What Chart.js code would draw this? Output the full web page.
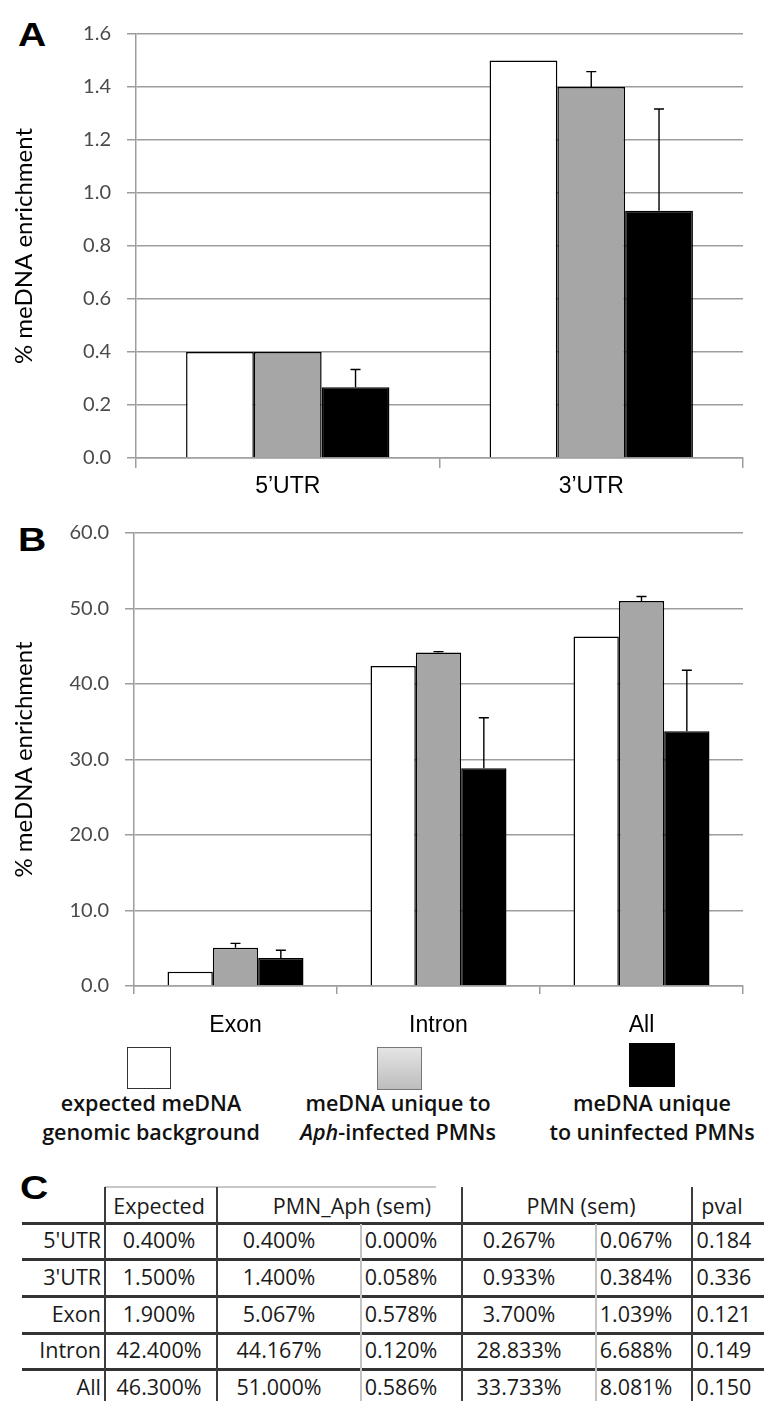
<!DOCTYPE html>
<html>
<head>
<meta charset="utf-8">
<script src="https://cdn.jsdelivr.net/npm/chart.js@4.4.1/dist/chart.umd.min.js"></script>
<style>
  body { margin: 0; background: #fff; }
  #page { position: relative; width: 764px; height: 1401px; overflow: hidden; background: #fff; font-family: Lato, sans-serif; }
  .panel { position: absolute; font: bold 34px "Liberation Sans", Arial, sans-serif; line-height: 34px; transform-origin: left top; transform: scaleX(1.15); color: #000; }
  #wrapA { position: absolute; left: 0; top: 0; width: 764px; height: 505px; }
  #wrapB { position: absolute; left: 0; top: 505px; width: 764px; height: 535px; }
  .sw { position: absolute; box-sizing: border-box; }
  .lg { position: absolute; width: 280px; margin-left: -140px; text-align: center; font: 600 21.5px "Open Sans", sans-serif; line-height: 29px; color: #111; }
  .cell { position: absolute; font: 21.5px "Open Sans", sans-serif; color: #1a1a1a; white-space: nowrap; }
  .ln { position: absolute; }
</style>
</head>
<body>
<div id="page">
  <div class="panel" style="left:18px;top:17px">A</div>
  <div class="panel" style="left:18px;top:522px">B</div>
  <div class="panel" style="left:20px;top:1170px">C</div>
  <div id="wrapA"><canvas id="chartA"></canvas></div>
  <div id="wrapB"><canvas id="chartB"></canvas></div>
  <div id="legend"></div>
  <div id="table"></div>
</div>
<script>
const rowLabels = ["5'UTR", "3'UTR", "Exon", "Intron", "All"];
const catsA = ["5’UTR", "3’UTR"];
const catsB = ["Exon", "Intron", "All"];
const expected = [0.400, 1.500, 1.900, 42.400, 46.300];
const aph = [0.400, 1.400, 5.067, 44.167, 51.000];
const aphSem = [0.000, 0.058, 0.578, 0.120, 0.586];
const pmn = [0.267, 0.933, 3.700, 28.833, 33.733];
const pmnSem = [0.067, 0.384, 1.039, 6.688, 8.081];
const pval = ["0.184", "0.336", "0.121", "0.149", "0.150"];
const seriesNames = [
  ["expected meDNA", "genomic background"],
  ["meDNA unique to", "<i>Aph</i>-infected PMNs"],
  ["meDNA unique", "to uninfected PMNs"]
];
const headers = ["Expected", "PMN_Aph (sem)", "PMN (sem)", "pval"];
const yTitle = "% meDNA enrichment";

const gridGray = '#9d9d9d';
const barColors = ['#ffffff', '#a6a6a6', '#000000'];

const errorBars = {
  id: 'errorBars',
  afterDatasetsDraw(chart) {
    const ctx = chart.ctx;
    const y = chart.scales.y;
    chart.data.datasets.forEach((ds, i) => {
      if (!ds.errors) return;
      chart.getDatasetMeta(i).data.forEach((bar, j) => {
        const e = ds.errors[j];
        if (!e) return;
        const top = y.getPixelForValue(ds.data[j] + e);
        ctx.save();
        ctx.strokeStyle = '#000';
        ctx.lineWidth = 1.4;
        ctx.beginPath();
        ctx.moveTo(bar.x, bar.y);
        ctx.lineTo(bar.x, top);
        ctx.moveTo(bar.x - 5, top);
        ctx.lineTo(bar.x + 5, top);
        ctx.stroke();
        ctx.restore();
      });
    });
  }
};

function makeChart(id, labels, from, to, yMax, yStep, o) {
  return new Chart(document.getElementById(id), {
    type: 'bar',
    data: {
      labels: labels,
      datasets: [
        { label: 'expected', data: expected.slice(from, to), backgroundColor: barColors[0] },
        { label: 'Aph', data: aph.slice(from, to), errors: aphSem.slice(from, to), backgroundColor: barColors[1] },
        { label: 'uninfected', data: pmn.slice(from, to), errors: pmnSem.slice(from, to), backgroundColor: barColors[2] }
      ].map(d => Object.assign(d, { borderColor: '#000', borderWidth: 1.5, barPercentage: 1, categoryPercentage: 0.67 }))
    },
    options: {
      responsive: true,
      maintainAspectRatio: false,
      animation: false,
      layout: { padding: { top: o.top, right: 21, left: 0, bottom: 0 } },
      plugins: { legend: { display: false }, tooltip: { enabled: false } },
      scales: {
        x: {
          grid: { drawOnChartArea: false, color: gridGray, lineWidth: 1.5, tickLength: o.xTick, offset: true },
          border: { color: gridGray, width: 1.5 },
          ticks: { padding: o.xPad, color: '#000', font: { family: 'Liberation Sans', size: 23 } },
          afterFit(s) { s.height = o.xH; }
        },
        y: {
          min: 0, max: yMax,
          ticks: { stepSize: yStep, padding: 16, color: '#4a4a4a', font: { family: 'Lato', size: 20 }, callback: v => v.toFixed(1) },
          grid: { color: gridGray, lineWidth: 1.5, tickLength: 9 },
          border: { color: gridGray, width: 1.5 },
          title: { display: true, text: yTitle, color: '#000', font: { family: 'Lato', size: 24 }, padding: { top: 10, bottom: 0 } },
          afterFit(s) { s.width = o.yW; }
        }
      }
    },
    plugins: [errorBars]
  });
}

makeChart('chartA', catsA, 0, 2, 1.6, 0.2, { top: 34, xTick: 10, xPad: 5, xH: 47, yW: 136 });
makeChart('chartB', catsB, 2, 5, 60, 10, { top: 26, xTick: 8, xPad: 18, xH: 54, yW: 134 });

// legend
const legendPos = [
  { x: 151, sw: [127, 1047, 44, 42], border: '1.5px solid #333', bg: '#fff' },
  { x: 398, sw: [377, 1047, 45, 43], border: '1.5px solid #777', bg: 'linear-gradient(#e4e4e4, #bdbdbd)' },
  { x: 652, sw: [629, 1043, 46, 44], border: 'none', bg: '#000' }
];
const legend = document.getElementById('legend');
seriesNames.forEach((name, i) => {
  const p = legendPos[i];
  const sw = document.createElement('div');
  sw.className = 'sw';
  sw.style.cssText = `left:${p.sw[0]}px;top:${p.sw[1]}px;width:${p.sw[2]}px;height:${p.sw[3]}px;border:${p.border};background:${p.bg}`;
  legend.appendChild(sw);
  const t = document.createElement('div');
  t.className = 'lg';
  t.style.left = p.x + 'px';
  t.style.top = '1088px';
  t.innerHTML = name.join('<br>');
  legend.appendChild(t);
});

// table C
const table = document.getElementById('table');
const lineY = [1223, 1259, 1296, 1333, 1369, 1406];
const colC = [159, 279, 401, 519, 636, 724];
const headC = [159, 352, 581, 722];
function addText(txt, x, yc, align) {
  const d = document.createElement('div');
  d.className = 'cell';
  d.textContent = txt;
  d.style.top = (yc - 18) + 'px';
  d.style.lineHeight = '36px';
  if (align === 'right') { d.style.right = (764 - x) + 'px'; }
  else { d.style.left = x + 'px'; d.style.transform = 'translateX(-50%)'; }
  table.appendChild(d);
}
function addLine(x, y, w, h, c) {
  const d = document.createElement('div');
  d.className = 'ln';
  d.style.cssText = `left:${x}px;top:${y}px;width:${w}px;height:${h}px;background:${c}`;
  table.appendChild(d);
}
headers.forEach((h, i) => addText(h, headC[i], 1206, 'center'));
rowLabels.forEach((lab, r) => {
  const yc = (lineY[r] + lineY[r + 1]) / 2 - 1;
  addText(lab, 101, yc, 'right');
  const vals = [expected[r], aph[r], aphSem[r], pmn[r], pmnSem[r]].map(v => v.toFixed(3) + '%');
  vals.push(pval[r]);
  vals.forEach((v, c) => addText(v, colC[c], yc, 'center'));
});
addLine(105, 1186, 331, 1.5, '#c8c8c8');
lineY.slice(0, 5).forEach(y => addLine(22, y - 1, 742, 2.5, '#333'));
[105, 217, 462, 692].forEach(x => addLine(x - 1, 1187, 2, 220, '#3c3c3c'));
[361, 596].forEach(x => addLine(x - 1, 1224, 1.5, 180, '#c4c4c4'));
</script>
</body>
</html>
